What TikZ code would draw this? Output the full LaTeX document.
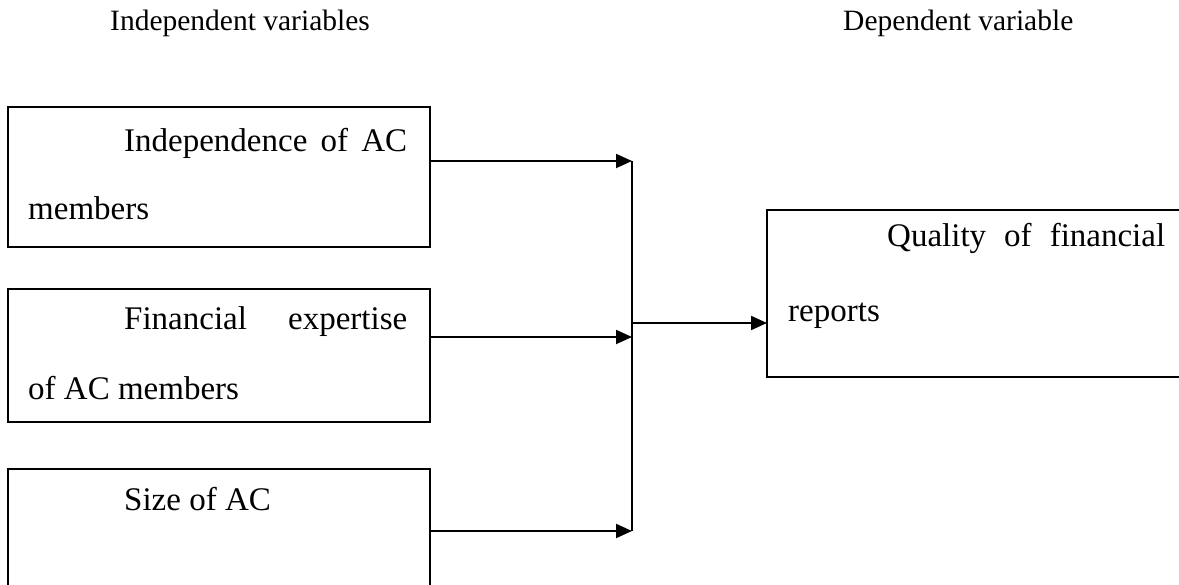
\documentclass[tikz,border=0pt]{standalone}
\usepackage{fontspec}
\setmainfont{Liberation Serif}
\usetikzlibrary{arrows.meta}
\begin{document}
\begin{tikzpicture}[x=1pt,y=-1pt,
  box/.style={draw,line width=2pt,anchor=north west,inner sep=0pt,outer sep=0pt},
  link/.style={line width=2pt},
  arr/.style={line width=2pt,-{Triangle[length=16pt,width=14pt]}},
  lbl/.style={inner sep=0pt,anchor=base west,font=\fontsize{33}{40}\selectfont},
  hdr/.style={inner sep=0pt,anchor=base west,font=\fontsize{29.5}{36}\selectfont}]
\useasboundingbox (0,0) rectangle (1179,585);
\clip (0,0) rectangle (1179,585);
% headers
\node[hdr] (hi) at (110,31) {Independent variables};
\node[hdr] (hd) at (843,31) {Dependent variable};
% boxes
\node[box,minimum width=422pt,minimum height=140pt] (b1) at (8,107) {};
\node[box,minimum width=422pt,minimum height=133pt] (b2) at (8,289) {};
\node[box,minimum width=422pt,minimum height=160pt] (b3) at (8,469) {};
\node[box,minimum width=450pt,minimum height=167pt] (rb) at (767,210) {};
% texts
\node[lbl] (t1a) at (124,152) {\hbox to 283pt{Independence\hfill of\hfill AC}};
\node[lbl] (t1b) at (28,220) {members};
\node[lbl] (t2a) at (124,330) {\hbox to 283pt{Financial\hfill expertise}};
\node[lbl] (t2b) at (28,400) {of AC members};
\node[lbl] (t3a) at (124,510) {Size of AC};
\node[lbl] (tra) at (887,247) {\hbox to 278pt{Quality\hfill of\hfill financial}};
\node[lbl] (trb) at (788,322) {reports};
% connectors
\coordinate (j1) at (632,161);
\coordinate (j2) at (632,337);
\coordinate (j3) at (632,531);
\coordinate (jm) at (632,323);
\draw[arr] (b1.east |- j1) -- (j1);
\draw[arr] (b2.east |- j2) -- (j2);
\draw[arr] (b3.east |- j3) -- (j3);
\draw[link] (j1) -- (j3);
\draw[arr] (jm) -- (rb.west |- jm);
\end{tikzpicture}
\end{document}
